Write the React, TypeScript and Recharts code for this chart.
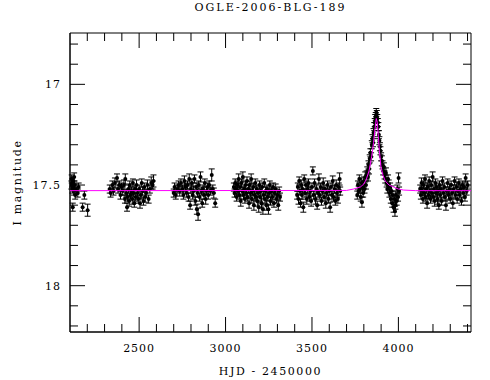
import {
  ScatterChart,
  Scatter,
  XAxis,
  YAxis,
  ErrorBar,
  ReferenceArea,
} from "recharts";

// [HJD - 2450000, I mag, error], one array per season
const season1: [number, number, number][] = [
  [2108, 17.5, 0.02], [2110, 17.47, 0.02], [2112, 17.49, 0.02], [2114, 17.52, 0.02],
  [2116, 17.61, 0.02], [2118, 17.48, 0.02], [2120, 17.51, 0.02], [2122, 17.53, 0.02],
  [2124, 17.46, 0.02], [2126, 17.5, 0.02], [2130, 17.55, 0.02], [2135, 17.52, 0.025],
  [2145, 17.54, 0.02], [2150, 17.51, 0.02], [2173, 17.61, 0.02], [2183, 17.55, 0.02],
  [2202, 17.625, 0.03],
];

const season2: [number, number, number][] = [
  [2330, 17.52, 0.02], [2335, 17.54, 0.02], [2345, 17.5, 0.02], [2352, 17.53, 0.02],
  [2360, 17.49, 0.025], [2372, 17.465, 0.02], [2378, 17.52, 0.02], [2385, 17.5, 0.02],
  [2392, 17.55, 0.02], [2398, 17.51, 0.02], [2405, 17.53, 0.02], [2412, 17.5, 0.025],
  [2418, 17.57, 0.02], [2420, 17.47, 0.025], [2425, 17.54, 0.02], [2430, 17.61, 0.02],
  [2433, 17.56, 0.02], [2438, 17.52, 0.02], [2442, 17.58, 0.025], [2446, 17.5, 0.02],
  [2450, 17.55, 0.02], [2455, 17.53, 0.02], [2460, 17.57, 0.025], [2464, 17.49, 0.02],
  [2468, 17.54, 0.02], [2472, 17.59, 0.02], [2476, 17.52, 0.02], [2480, 17.56, 0.02],
  [2485, 17.5, 0.025], [2490, 17.54, 0.02], [2495, 17.57, 0.02], [2500, 17.52, 0.02],
  [2505, 17.59, 0.025], [2510, 17.55, 0.02], [2515, 17.49, 0.02], [2520, 17.53, 0.02],
  [2525, 17.58, 0.02], [2530, 17.51, 0.02], [2535, 17.56, 0.025], [2540, 17.54, 0.02],
  [2548, 17.5, 0.025], [2555, 17.57, 0.02], [2562, 17.52, 0.02], [2570, 17.49, 0.03],
  [2578, 17.5, 0.02], [2583, 17.48, 0.03],
];

const season3: [number, number, number][] = [
  [2700, 17.54, 0.02], [2705, 17.51, 0.02], [2712, 17.55, 0.02], [2720, 17.52, 0.02],
  [2728, 17.5, 0.02], [2735, 17.53, 0.025], [2742, 17.49, 0.02], [2750, 17.52, 0.02],
  [2756, 17.55, 0.02], [2762, 17.48, 0.025], [2768, 17.51, 0.02], [2775, 17.54, 0.02],
  [2780, 17.5, 0.02], [2786, 17.56, 0.02], [2790, 17.47, 0.025], [2795, 17.6, 0.02],
  [2800, 17.52, 0.02], [2805, 17.49, 0.02], [2810, 17.55, 0.02], [2815, 17.53, 0.025],
  [2820, 17.47, 0.02], [2825, 17.58, 0.02], [2830, 17.51, 0.02], [2834, 17.62, 0.025],
  [2838, 17.54, 0.02], [2841, 17.645, 0.03], [2845, 17.5, 0.02], [2850, 17.56, 0.02],
  [2855, 17.46, 0.025], [2860, 17.53, 0.02], [2865, 17.59, 0.02], [2870, 17.52, 0.02],
  [2875, 17.55, 0.02], [2880, 17.49, 0.02], [2885, 17.57, 0.025], [2890, 17.53, 0.02],
  [2895, 17.51, 0.02], [2900, 17.55, 0.02], [2905, 17.5, 0.02], [2912, 17.53, 0.02],
  [2920, 17.45, 0.03], [2926, 17.52, 0.02], [2932, 17.54, 0.025], [2940, 17.59, 0.02],
];

const season4: [number, number, number][] = [
  [3048, 17.51, 0.02], [3052, 17.54, 0.02], [3056, 17.49, 0.02], [3060, 17.52, 0.025],
  [3064, 17.56, 0.02], [3068, 17.5, 0.02], [3072, 17.53, 0.02], [3076, 17.47, 0.025],
  [3080, 17.55, 0.02], [3084, 17.51, 0.02], [3088, 17.58, 0.025], [3092, 17.49, 0.02],
  [3096, 17.53, 0.02], [3100, 17.46, 0.025], [3104, 17.55, 0.02], [3108, 17.52, 0.02],
  [3112, 17.57, 0.02], [3116, 17.5, 0.02], [3120, 17.54, 0.025], [3124, 17.48, 0.02],
  [3128, 17.56, 0.02], [3132, 17.52, 0.02], [3136, 17.59, 0.025], [3140, 17.5, 0.02],
  [3144, 17.54, 0.02], [3148, 17.47, 0.025], [3152, 17.57, 0.02], [3156, 17.53, 0.02],
  [3160, 17.51, 0.02], [3164, 17.6, 0.025], [3168, 17.55, 0.02], [3172, 17.49, 0.02],
  [3176, 17.56, 0.02], [3180, 17.52, 0.02], [3184, 17.58, 0.025], [3188, 17.54, 0.02],
  [3192, 17.61, 0.025], [3196, 17.5, 0.02], [3200, 17.56, 0.02], [3204, 17.53, 0.02],
  [3208, 17.59, 0.025], [3212, 17.51, 0.02], [3216, 17.62, 0.025], [3220, 17.55, 0.02],
  [3224, 17.49, 0.02], [3228, 17.57, 0.02], [3232, 17.53, 0.02], [3236, 17.6, 0.025],
  [3240, 17.52, 0.02], [3244, 17.56, 0.02], [3248, 17.62, 0.025], [3252, 17.54, 0.02],
  [3256, 17.5, 0.02], [3260, 17.58, 0.02], [3265, 17.53, 0.02], [3270, 17.56, 0.025],
  [3275, 17.51, 0.02], [3280, 17.59, 0.02], [3285, 17.54, 0.02], [3290, 17.52, 0.025],
  [3295, 17.57, 0.02], [3300, 17.55, 0.02], [3305, 17.6, 0.025], [3310, 17.53, 0.02],
  [3315, 17.56, 0.02],
];

const season5: [number, number, number][] = [
  [3414, 17.55, 0.02], [3418, 17.51, 0.02], [3422, 17.57, 0.025], [3426, 17.48, 0.02],
  [3430, 17.53, 0.02], [3434, 17.59, 0.02], [3438, 17.5, 0.025], [3442, 17.55, 0.02],
  [3446, 17.52, 0.02], [3450, 17.61, 0.025], [3455, 17.47, 0.02], [3460, 17.54, 0.02],
  [3465, 17.5, 0.02], [3470, 17.57, 0.025], [3475, 17.52, 0.02], [3480, 17.49, 0.02],
  [3485, 17.56, 0.02], [3490, 17.53, 0.02], [3495, 17.58, 0.025], [3500, 17.51, 0.02],
  [3505, 17.43, 0.02], [3510, 17.55, 0.02], [3515, 17.49, 0.02], [3520, 17.57, 0.025],
  [3525, 17.52, 0.02], [3530, 17.6, 0.02], [3535, 17.54, 0.02], [3540, 17.47, 0.025],
  [3545, 17.55, 0.02], [3550, 17.51, 0.02], [3555, 17.58, 0.02], [3560, 17.53, 0.02],
  [3565, 17.49, 0.025], [3570, 17.56, 0.02], [3575, 17.52, 0.02], [3580, 17.59, 0.025],
  [3585, 17.54, 0.02], [3590, 17.5, 0.02], [3595, 17.57, 0.02], [3600, 17.53, 0.02],
  [3605, 17.61, 0.025], [3610, 17.51, 0.02], [3615, 17.55, 0.02], [3620, 17.48, 0.025],
  [3625, 17.56, 0.02], [3630, 17.52, 0.02], [3635, 17.58, 0.02], [3640, 17.5, 0.025],
  [3645, 17.54, 0.02], [3650, 17.57, 0.02], [3655, 17.51, 0.02], [3660, 17.47, 0.03],
  [3663, 17.53, 0.02],
];

// 2006 season with the microlensing event
const season6: [number, number, number][] = [
  [3762, 17.55, 0.02], [3766, 17.5, 0.02], [3770, 17.53, 0.025], [3774, 17.47, 0.02],
  [3778, 17.52, 0.02], [3782, 17.56, 0.02], [3786, 17.49, 0.025], [3789, 17.585, 0.025],
  [3792, 17.51, 0.02], [3796, 17.54, 0.02], [3800, 17.48, 0.02], [3804, 17.52, 0.02],
  [3808, 17.46, 0.025], [3812, 17.5, 0.02],
  [3816, 17.45, 0.02], [3820, 17.43, 0.02], [3824, 17.46, 0.02], [3827, 17.4, 0.02],
  [3830, 17.42, 0.025], [3834, 17.37, 0.02], [3838, 17.34, 0.02], [3842, 17.36, 0.02],
  [3846, 17.3, 0.02], [3850, 17.27, 0.02], [3853, 17.29, 0.02], [3856, 17.24, 0.02],
  [3860, 17.21, 0.02], [3863, 17.19, 0.02], [3866, 17.17, 0.02], [3869, 17.16, 0.02],
  [3872, 17.14, 0.02], [3875, 17.15, 0.02], [3878, 17.17, 0.02], [3881, 17.19, 0.02],
  [3884, 17.21, 0.02], [3887, 17.25, 0.02], [3890, 17.28, 0.02], [3893, 17.31, 0.02],
  [3896, 17.33, 0.02], [3900, 17.36, 0.02], [3904, 17.38, 0.025], [3908, 17.4, 0.02],
  [3912, 17.43, 0.02], [3916, 17.41, 0.02], [3920, 17.45, 0.02], [3924, 17.47, 0.02],
  [3928, 17.44, 0.025], [3932, 17.49, 0.02], [3936, 17.52, 0.02], [3940, 17.47, 0.02],
  [3944, 17.5, 0.025], [3948, 17.54, 0.02], [3952, 17.51, 0.02], [3956, 17.57, 0.02],
  [3960, 17.53, 0.025], [3964, 17.59, 0.02], [3968, 17.55, 0.02], [3972, 17.61, 0.025],
  [3976, 17.57, 0.02], [3980, 17.63, 0.025], [3983, 17.6, 0.02], [3986, 17.55, 0.02],
  [3990, 17.58, 0.02], [3994, 17.52, 0.02], [3998, 17.56, 0.02], [4001, 17.465, 0.025],
  [4004, 17.53, 0.02],
];

const season7: [number, number, number][] = [
  [4126, 17.52, 0.02], [4130, 17.55, 0.02], [4134, 17.49, 0.025], [4138, 17.53, 0.02],
  [4142, 17.57, 0.02], [4146, 17.5, 0.02], [4150, 17.54, 0.025], [4154, 17.47, 0.02],
  [4158, 17.56, 0.02], [4162, 17.52, 0.02], [4166, 17.59, 0.025], [4170, 17.51, 0.02],
  [4174, 17.55, 0.02], [4178, 17.48, 0.02], [4182, 17.53, 0.025], [4186, 17.57, 0.02],
  [4190, 17.5, 0.02], [4194, 17.54, 0.02], [4198, 17.46, 0.025], [4202, 17.56, 0.02],
  [4206, 17.52, 0.02], [4210, 17.58, 0.025], [4214, 17.49, 0.02], [4218, 17.54, 0.02],
  [4222, 17.51, 0.02], [4226, 17.57, 0.025], [4230, 17.53, 0.02], [4234, 17.6, 0.02],
  [4238, 17.5, 0.02], [4242, 17.55, 0.025], [4246, 17.52, 0.02], [4250, 17.58, 0.02],
  [4255, 17.48, 0.02], [4260, 17.54, 0.025], [4265, 17.51, 0.02], [4270, 17.56, 0.02],
  [4275, 17.6, 0.025], [4280, 17.53, 0.02], [4285, 17.49, 0.02], [4290, 17.55, 0.02],
  [4295, 17.52, 0.025], [4300, 17.57, 0.02], [4305, 17.5, 0.02], [4310, 17.54, 0.02],
  [4315, 17.59, 0.025], [4320, 17.52, 0.02], [4325, 17.48, 0.02], [4330, 17.55, 0.02],
  [4335, 17.51, 0.025], [4340, 17.57, 0.02], [4345, 17.53, 0.02], [4350, 17.49, 0.02],
  [4355, 17.55, 0.025], [4360, 17.52, 0.02], [4365, 17.58, 0.02], [4370, 17.5, 0.02],
  [4375, 17.54, 0.025], [4380, 17.51, 0.02], [4385, 17.56, 0.02], [4389, 17.465, 0.02],
  [4395, 17.53, 0.02], [4400, 17.5, 0.02],
];

// model light curve (magenta)
const modelT = [
  2100, 3700, 3740, 3780, 3800, 3815, 3830, 3845, 3856, 3865, 3872, 3878, 3884,
  3890, 3899, 3910, 3924, 3945, 3972, 4000, 4030, 4100, 4420,
];
const modelMag = [
  17.528, 17.527, 17.52, 17.51, 17.495, 17.47, 17.43, 17.36, 17.29, 17.22, 17.17,
  17.19, 17.26, 17.33, 17.41, 17.45, 17.48, 17.5, 17.51, 17.52, 17.525, 17.528,
  17.528,
];

const xTicks = [
  2200, 2300, 2400, 2500, 2600, 2700, 2800, 2900, 3000, 3100, 3200, 3300, 3400,
  3500, 3600, 3700, 3800, 3900, 4000, 4100, 4200, 4300, 4400,
];
const xLabels = [2500, 3000, 3500, 4000];
const yTicks = [
  16.8, 16.9, 17, 17.1, 17.2, 17.3, 17.4, 17.5, 17.6, 17.7, 17.8, 17.9, 18, 18.1, 18.2,
];
const yLabels = [17, 17.5, 18];

const X_MIN = 2100;
const X_MAX = 4420;
const Y_MIN = 16.745;
const Y_MAX = 18.23;

const PLOT_W = 401;
const PLOT_H = 299;
const FONT = "'DejaVu Serif', serif";

const points = [season1, season2, season3, season4, season5, season6, season7]
  .flat()
  .map(([t, mag, err]) => ({ t, mag, err }));
const model = modelT.map((t, i) => ({ t, mag: modelMag[i] }));

const isLabel = (list: number[], v: number) => list.some((l) => Math.abs(l - v) < 1e-6);

function XTick(props: any) {
  const { x, y, payload } = props;
  const major = isLabel(xLabels, payload.value);
  const len = major ? 15 : 8;
  return (
    <g>
      <line x1={x} x2={x} y1={y} y2={y - len} stroke="#000" />
      <line x1={x} x2={x} y1={y - PLOT_H} y2={y - PLOT_H + len} stroke="#000" />
      {major && (
        <text x={x} y={y + 20} textAnchor="middle" fontFamily={FONT} fontSize={11}
          letterSpacing={1} fill="#000">
          {payload.value}
        </text>
      )}
    </g>
  );
}

function YTick(props: any) {
  const { x, y, payload } = props;
  const major = isLabel(yLabels, payload.value);
  const len = major ? 15 : 8;
  return (
    <g>
      <line x1={x} x2={x + len} y1={y} y2={y} stroke="#000" />
      <line x1={x + PLOT_W} x2={x + PLOT_W - len} y1={y} y2={y} stroke="#000" />
      {major && (
        <text x={x - 9} y={y + 4} textAnchor="end" fontFamily={FONT} fontSize={11}
          letterSpacing={1} fill="#000">
          {payload.value}
        </text>
      )}
    </g>
  );
}

const Dot = (props: any) => <circle cx={props.cx} cy={props.cy} r={2} fill="#000" />;
const NoDot = () => <g />;

export default function App() {
  return (
    <div style={{ position: "absolute", left: 0, top: 0, width: 490, height: 380, background: "#fff" }}>
      <div
        style={{
          position: "absolute", left: 70, top: 1, width: PLOT_W, textAlign: "center",
          fontFamily: FONT, fontSize: 11, letterSpacing: 2, color: "#000",
        }}
      >
        OGLE-2006-BLG-189
      </div>
      <ScatterChart width={490} height={380} margin={{ top: 33, right: 19, left: 0, bottom: 0 }}>
        <XAxis
          type="number"
          dataKey="t"
          domain={[X_MIN, X_MAX]}
          allowDataOverflow
          ticks={xTicks}
          interval={0}
          tick={<XTick />}
          tickLine={false}
          tickSize={0}
          tickMargin={0}
          height={48}
          axisLine={{ stroke: "#000" }}
          label={{
            value: "HJD - 2450000", position: "insideBottom", offset: 5,
            style: { fontFamily: FONT, fontSize: 11, letterSpacing: 1.6, fill: "#000" },
          }}
        />
        <YAxis
          type="number"
          dataKey="mag"
          domain={[Y_MIN, Y_MAX]}
          reversed
          allowDataOverflow
          ticks={yTicks}
          interval={0}
          tick={<YTick />}
          tickLine={false}
          tickSize={0}
          tickMargin={0}
          width={70}
          axisLine={{ stroke: "#000" }}
          label={{
            value: "I magnitude", angle: -90, position: "insideLeft", offset: 17,
            style: { fontFamily: FONT, fontSize: 11, letterSpacing: 1.7, fill: "#000", textAnchor: "middle" },
          }}
        />
        <ReferenceArea x1={X_MIN} x2={X_MAX} y1={Y_MIN} y2={Y_MAX} fill="none" stroke="#000" fillOpacity={0} />
        <Scatter data={points} shape={<Dot />} isAnimationActive={false}>
          <ErrorBar dataKey="err" direction="y" width={3} stroke="#000" strokeWidth={1} />
        </Scatter>
        <Scatter
          data={model}
          shape={<NoDot />}
          line={{ stroke: "#ff00ff", strokeWidth: 1 }}
          lineType="joint"
          isAnimationActive={false}
        />
      </ScatterChart>
    </div>
  );
}
